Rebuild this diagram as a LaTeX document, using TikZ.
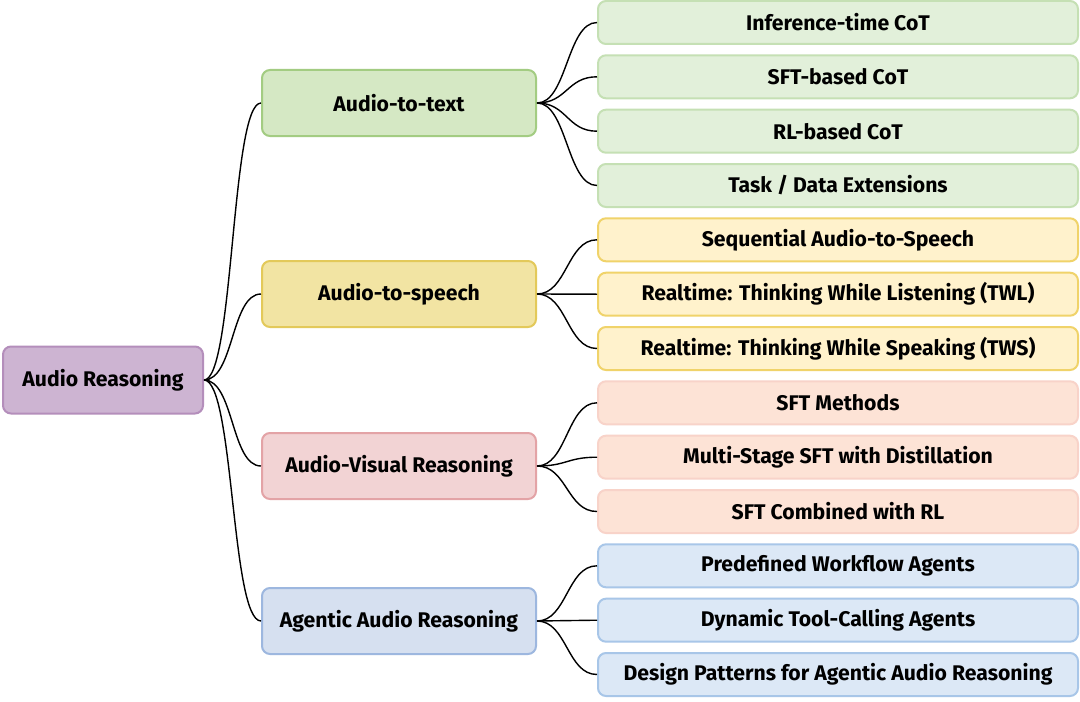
\documentclass[tikz,border=0pt]{standalone}
\usepackage{fontspec}
\setmainfont{Fira Sans}
\usetikzlibrary{calc}

\definecolor{rootfill}{HTML}{CDB4D2}
\definecolor{rootline}{HTML}{B48EBB}
\definecolor{greenfill}{HTML}{D5E8C4}
\definecolor{greenline}{HTML}{A3CC82}
\definecolor{greenleaf}{HTML}{E2F0DA}
\definecolor{greenleafline}{HTML}{C5E0B4}
\definecolor{yellowfill}{HTML}{F2E4A3}
\definecolor{yellowline}{HTML}{E3C95A}
\definecolor{yellowleaf}{HTML}{FFF2CC}
\definecolor{yellowleafline}{HTML}{F0D36A}
\definecolor{redfill}{HTML}{F2D3D4}
\definecolor{redline}{HTML}{E3A3A6}
\definecolor{redleaf}{HTML}{FDE3D6}
\definecolor{redleafline}{HTML}{F8D3C9}
\definecolor{bluefill}{HTML}{D6E0F0}
\definecolor{blueline}{HTML}{9DB7DF}
\definecolor{blueleaf}{HTML}{DCE8F6}
\definecolor{blueleafline}{HTML}{A8C6E8}

\tikzset{
    box/.style={draw, rounded corners=4pt, line width=1pt, align=center,
        inner sep=0pt, font=\fontsize{10.6pt}{12pt}\selectfont\bfseries},
    rootbox/.style={box, fill=rootfill, draw=rootline,
        minimum width=100pt, minimum height=33.5pt},
    topic/.style={box, minimum width=137pt, minimum height=33pt},
    leaf/.style={box, minimum width=240pt, minimum height=21.5pt},
    branch/.style={line width=0.7pt, to path={.. controls ($(\tikztostart)+(15pt,0)$)
        and ($(\tikztotarget)+(-15pt,0)$) .. (\tikztotarget)}}
}

\begin{document}
\begin{tikzpicture}[x=0.5pt,y=-0.5pt]
        \fill[white] (0,0) rectangle (1080,701);
        \useasboundingbox (0,0) rectangle (1080,701);

        \node[rootbox] (root) at (103,380) {Audio Reasoning};

        \node[topic, fill=greenfill, draw=greenline] (text) at (399,103) {Audio-to-text};
        \node[topic, fill=yellowfill, draw=yellowline] (speech) at (399,294) {Audio-to-speech};
        \node[topic, fill=redfill, draw=redline] (visual) at (399,466) {Audio-Visual Reasoning};
        \node[topic, fill=bluefill, draw=blueline] (agent) at (399,621) {Agentic Audio Reasoning};

        \node[leaf, fill=greenleaf, draw=greenleafline] (text1) at (838,22.5) {Inference-time CoT};
        \node[leaf, fill=greenleaf, draw=greenleafline] (text2) at (838,76.8) {SFT-based CoT};
        \node[leaf, fill=greenleaf, draw=greenleafline] (text3) at (838,131.2) {RL-based CoT};
        \node[leaf, fill=greenleaf, draw=greenleafline] (text4) at (838,185.5) {Task / Data Extensions};

        \node[leaf, fill=yellowleaf, draw=yellowleafline] (speech1) at (838,239.8) {Sequential Audio-to-Speech};
        \node[leaf, fill=yellowleaf, draw=yellowleafline] (speech2) at (838,294.2) {Realtime: Thinking While Listening (TWL)};
        \node[leaf, fill=yellowleaf, draw=yellowleafline] (speech3) at (838,348.5) {Realtime: Thinking While Speaking (TWS)};

        \node[leaf, fill=redleaf, draw=redleafline] (visual1) at (838,402.8) {SFT Methods};
        \node[leaf, fill=redleaf, draw=redleafline] (visual2) at (838,457.2) {Multi-Stage SFT with Distillation};
        \node[leaf, fill=redleaf, draw=redleafline] (visual3) at (838,511.5) {SFT Combined with RL};

        \node[leaf, fill=blueleaf, draw=blueleafline] (agent1) at (838,565.8) {Predefined Workflow Agents};
        \node[leaf, fill=blueleaf, draw=blueleafline] (agent2) at (838,620.2) {Dynamic Tool-Calling Agents};
        \node[leaf, fill=blueleaf, draw=blueleafline] (agent3) at (838,674.5) {Design Patterns for Agentic Audio Reasoning};

        % root to topics
        \draw[branch] (root.east) to (text.west);
        \draw[branch] (root.east) to (speech.west);
        \draw[branch] (root.east) to (visual.west);
        \draw[branch] (root.east) to (agent.west);

        % topics to leaves
        \draw[branch] (text.east) to (text1.west);
        \draw[branch] (text.east) to (text2.west);
        \draw[branch] (text.east) to (text3.west);
        \draw[branch] (text.east) to (text4.west);

        \draw[branch] (speech.east) to (speech1.west);
        \draw[branch] (speech.east) to (speech2.west);
        \draw[branch] (speech.east) to (speech3.west);

        \draw[branch] (visual.east) to (visual1.west);
        \draw[branch] (visual.east) to (visual2.west);
        \draw[branch] (visual.east) to (visual3.west);

        \draw[branch] (agent.east) to (agent1.west);
        \draw[branch] (agent.east) to (agent2.west);
        \draw[branch] (agent.east) to (agent3.west);
    \end{tikzpicture}
\end{document}
